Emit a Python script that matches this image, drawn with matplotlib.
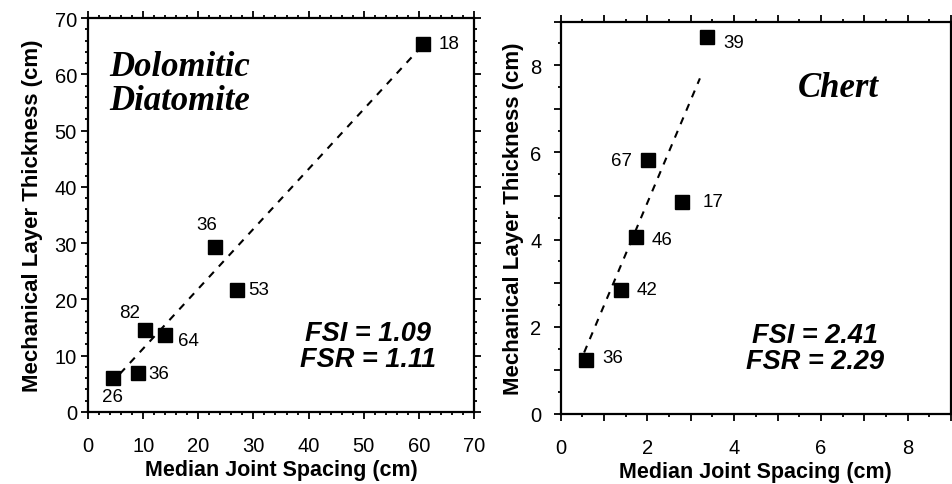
import matplotlib
matplotlib.use("Agg")
import matplotlib.pyplot as plt
from matplotlib.ticker import MultipleLocator, FuncFormatter

# ---- data: Dolomitic Diatomite ----
dd_spacing = [4.5, 9.0, 10.4, 14.0, 23.1, 27.0, 60.75]
dd_thick = [6.05, 6.9, 14.6, 13.6, 29.3, 21.7, 65.4]
dd_counts = ["26", "36", "82", "64", "36", "53", "18"]
dd_fit_x = [5.8, 59.7]
dd_fit_y = [6.8, 64.1]

# ---- data: Chert ----
ch_spacing = [3.38, 2.02, 2.80, 1.73, 1.40, 0.58]
ch_thick = [8.65, 5.82, 4.87, 4.07, 2.85, 1.24]
ch_counts = ["39", "67", "17", "46", "42", "36"]
ch_fit_x = [0.54, 3.21]
ch_fit_y = [1.41, 7.70]

SANS = ["Liberation Sans", "DejaVu Sans"]
SERIF = ["Liberation Serif", "DejaVu Serif"]

fig = plt.figure(figsize=(9.53, 4.85), dpi=100)
ax1 = fig.add_axes([88/953, 1-413/485, (474-88)/953, (413-19)/485])
ax2 = fig.add_axes([560.7/953, 1-415/485, (951-560.7)/953, (415-22.7)/485])

px = 0.72  # points per pixel


def style(ax, xmax, ymax, major, minor, label_every, right_ticks, ypad, ylpad):
    ax.set_xlim(0, xmax)
    ax.set_ylim(0, ymax)
    for s in ax.spines.values():
        s.set_linewidth(1.6)
    ax.xaxis.set_major_locator(MultipleLocator(major))
    ax.xaxis.set_minor_locator(MultipleLocator(minor))
    ax.yaxis.set_major_locator(MultipleLocator(major))
    ax.yaxis.set_minor_locator(MultipleLocator(minor))
    fmt = FuncFormatter(lambda v, p: f"{int(round(v))}" if abs(v / label_every - round(v / label_every)) < 1e-6 else "")
    ax.xaxis.set_major_formatter(fmt)
    ax.yaxis.set_major_formatter(fmt)
    ax.tick_params(which="both", direction="out", top=True, right=right_ticks,
                   width=1.3, color="black")
    ax.tick_params(which="major", length=5)
    ax.tick_params(which="minor", length=2.5)
    ax.tick_params(axis="x", which="major", pad=12)
    ax.tick_params(axis="y", which="major", pad=ypad)
    for lab in ax.get_xticklabels() + ax.get_yticklabels():
        lab.set_family(SANS)
        lab.set_fontsize(14.5)
    ax.set_xlabel("Median Joint Spacing (cm)", family=SANS, fontsize=15.5,
                  fontweight="bold", labelpad=3)
    ax.set_ylabel("Mechanical Layer Thickness (cm)", family=SANS, fontsize=16,
                  fontweight="bold", labelpad=ylpad)


style(ax1, 70, 70, 10, 2, 10, True, 3, 8)
style(ax2, 9, 9, 1, 0.5, 2, False, 9, 4)

# left panel
ax1.plot(dd_fit_x, dd_fit_y, color="black", lw=1.5, ls=(0, (3.5, 3.5)))
ax1.plot(dd_spacing, dd_thick, ls="none", marker="s", ms=9.5, color="black")
dd_offsets = [(0, -19, "center"), (11, 0, "left"), (-16, 17, "center"),
              (13, -5, "left"), (-9, 22.6, "center"), (11.7, 0, "left"),
              (16, 0, "left")]
for x, y, t, (dx, dy, ha) in zip(dd_spacing, dd_thick, dd_counts, dd_offsets):
    ax1.annotate(t, (x, y), xytext=(dx*px, dy*px), textcoords="offset points",
                 ha=ha, va="center", family=SANS, fontsize=13.5)
ax1.text(109/953, 1-110/485, "Dolomitic\nDiatomite", transform=fig.transFigure,
         family=SERIF, fontsize=25, fontweight="bold", style="italic",
         ha="left", va="baseline", linespacing=1.05)
ax1.text(368/953, 1-347/485, "FSI = 1.09\nFSR = 1.11", transform=fig.transFigure,
         family=SANS, fontsize=19.5, fontweight="bold", style="italic",
         ha="center", va="center", multialignment="center", linespacing=1.0)

# right panel
ax2.plot(ch_fit_x, ch_fit_y, color="black", lw=1.5, ls=(0, (3.5, 3.5)))
ax2.plot(ch_spacing, ch_thick, ls="none", marker="s", ms=9.5, color="black")
ch_offsets = [(16.3, -5.4, "left"), (-16.7, 0, "right"), (20.4, 0, "left"),
              (15.7, -3.4, "left"), (15.6, 0, "left"), (16.3, 2.7, "left")]
for x, y, t, (dx, dy, ha) in zip(ch_spacing, ch_thick, ch_counts, ch_offsets):
    ax2.annotate(t, (x, y), xytext=(dx*px, dy*px), textcoords="offset points",
                 ha=ha, va="center", family=SANS, fontsize=13.5)
ax2.text(798/953, 1-96.7/485, "Chert", transform=fig.transFigure,
         family=SERIF, fontsize=25, fontweight="bold", style="italic",
         ha="left", va="baseline")
ax2.text(815/953, 1-349/485, "FSI = 2.41\nFSR = 2.29", transform=fig.transFigure,
         family=SANS, fontsize=19.5, fontweight="bold", style="italic",
         ha="center", va="center", multialignment="center", linespacing=1.0)

fig.savefig("out.png", dpi=100)
